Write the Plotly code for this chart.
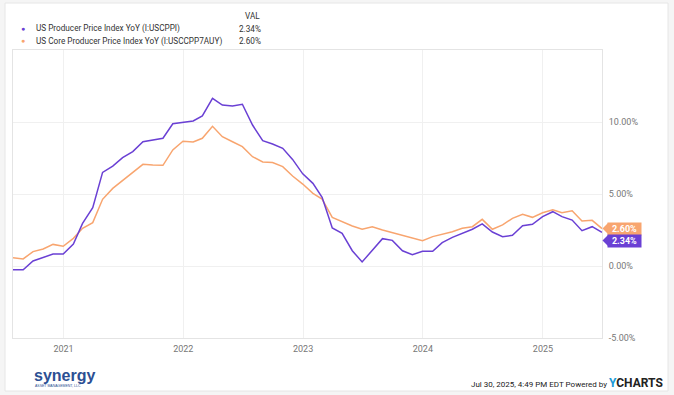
import plotly.graph_objects as go
import pandas as pd

# ---- data (monthly, Jul 2020 - Jun 2025), YoY %
dates = pd.date_range("2020-07-31", periods=60, freq="ME")
ppi = [-0.26, -0.26, 0.35, 0.60, 0.83, 0.83,
       1.53, 2.96, 4.05, 6.50, 6.94, 7.52, 7.94, 8.63, 8.75, 8.87, 9.88, 10.00,
       10.07, 10.42, 11.64, 11.18, 11.11, 11.23, 9.79, 8.70, 8.47, 8.17, 7.40, 6.40,
       5.74, 4.77, 2.64, 2.27, 1.06, 0.28, 1.06, 1.90, 1.78, 1.06, 0.78, 1.02,
       1.02, 1.62, 1.99, 2.29, 2.55, 2.92, 2.36, 2.04, 2.13, 2.80, 2.90, 3.43,
       3.77, 3.43, 3.19, 2.45, 2.73, 2.34]
core = [0.58, 0.49, 1.00, 1.18, 1.50, 1.37,
        1.92, 2.62, 3.01, 4.63, 5.39, 5.93, 6.44, 7.06, 7.01, 6.99, 8.06, 8.66,
        8.61, 8.87, 9.70, 8.98, 8.63, 8.29, 7.59, 7.22, 7.18, 6.90, 6.25, 5.69,
        5.05, 4.65, 3.38, 3.08, 2.78, 2.55, 2.73, 2.50, 2.31, 2.15, 1.92, 1.76,
        2.04, 2.18, 2.38, 2.62, 2.73, 3.24, 2.55, 2.85, 3.31, 3.59, 3.38, 3.70,
        3.91, 3.70, 3.84, 3.13, 3.17, 2.60]
names = ["US Producer Price Index YoY (I:USCPPI)",
         "US Core Producer Price Index YoY (I:USCCPP7AUY)"]
ytick_vals = [-5, 0, 5, 10]
ytick_text = ["-5.00%", "0.00%", "5.00%", "10.00%"]
xtick_vals = ["2021-01-01", "2022-01-01", "2023-01-01", "2024-01-01", "2025-01-01"]
xtick_text = ["2021", "2022", "2023", "2024", "2025"]

PURPLE = "#6a40d4"
ORANGE = "#f8a56f"
FONT = "Roboto"

W, H = 674, 395
ML, MR, MT, MB = 13, 72, 50, 57
PW, PH = W - ML - MR, H - MT - MB
YMIN, YMAX = -5, 15
DPP = (YMAX - YMIN) / PH  # data units per pixel


def px(x):
    return (x - ML) / PW


def py(y):
    return (H - MB - y) / PH


fig = go.Figure()
fig.add_trace(go.Scatter(x=dates, y=core, mode="lines", name=names[1],
                         line=dict(color=ORANGE, width=1.5), hoverinfo="skip"))
fig.add_trace(go.Scatter(x=dates, y=ppi, mode="lines", name=names[0],
                         line=dict(color=PURPLE, width=1.5), hoverinfo="skip"))

shapes = []
# card background
shapes.append(dict(type="rect", xref="paper", yref="paper", layer="below",
                   x0=px(5), x1=px(668), y0=py(391), y1=py(3),
                   fillcolor="white", line=dict(color="#e6e6e6", width=1)))

annotations = []
# legend header + rows
annotations.append(dict(xref="paper", yref="paper", x=px(262), y=py(16), text="VAL",
                        showarrow=False, xanchor="right", yanchor="middle",
                        font=dict(family=FONT, size=8.2, color="#333")))
for i, (nm, col, vals) in enumerate([(names[0], PURPLE, ppi), (names[1], ORANGE, core)]):
    yy = py(29 + 12 * i)
    annotations.append(dict(xref="paper", yref="paper", x=px(23), y=yy, text="●",
                            showarrow=False, xanchor="center", yanchor="middle",
                            font=dict(family=FONT, size=7, color=col)))
    annotations.append(dict(xref="paper", yref="paper", x=px(34), y=yy, text=nm,
                            showarrow=False, xanchor="left", yanchor="middle",
                            font=dict(family=FONT, size=8.2, color="#333")))
    annotations.append(dict(xref="paper", yref="paper", x=px(263), y=yy,
                            text=f"{vals[-1]:.2f}%",
                            showarrow=False, xanchor="right", yanchor="middle",
                            font=dict(family=FONT, size=8.2, color="#333")))

# end-of-line value tags
v_o = core[-1]
v_p = min(ppi[-1], v_o - 12 * DPP)
for v, col, val in [(v_o, ORANGE, core[-1]), (v_p, PURPLE, ppi[-1])]:
    annotations.append(dict(xref="paper", yref="y", x=px(607), y=v,
                            text=f"<b>{val:.2f}%</b>",
                            showarrow=False, xanchor="left", yanchor="middle",
                            bgcolor=col, borderpad=1, width=31, align="center",
                            font=dict(family=FONT, size=9, color="white")))
    shapes.append(dict(type="path", xref="paper", yref="y", line=dict(width=0),
                       fillcolor=col,
                       path=f"M {px(602.5)} {v} L {px(608)} {v + 5.5 * DPP} "
                            f"L {px(608)} {v - 5.5 * DPP} Z"))

# footer: logo + timestamp
annotations.append(dict(xref="paper", yref="paper", x=px(32), y=py(375), text="<b>synergy</b>",
                        showarrow=False, xanchor="left", yanchor="middle",
                        font=dict(family="Liberation Sans", size=16, color="#2c4f93")))
annotations.append(dict(xref="paper", yref="paper", x=px(33), y=py(386),
                        text="ASSET MANAGEMENT, LLC",
                        showarrow=False, xanchor="left", yanchor="middle",
                        font=dict(family="Liberation Sans", size=3.5, color="#2c4f93")))
annotations.append(dict(xref="paper", yref="paper", x=px(665), y=py(383),
                        text="<span style='color:#222'>Jul 30, 2025, 4:49 PM EDT Powered by </span>"
                             "<b><span style='font-size:12px;color:#1a9ad6'>Y</span>"
                             "<span style='font-size:12px;color:#222'>CHARTS</span></b>",
                        showarrow=False, xanchor="right", yanchor="middle",
                        font=dict(family=FONT, size=8, color="#222")))

fig.update_layout(
    width=W, height=H,
    margin=dict(l=ML, r=MR, t=MT, b=MB),
    paper_bgcolor="#f5f5f5", plot_bgcolor="white",
    showlegend=False,
    font=dict(family=FONT, size=9, color="#666"),
    shapes=shapes, annotations=annotations,
    xaxis=dict(range=[dates[0], dates[-1]], tickvals=xtick_vals, ticktext=xtick_text,
               showgrid=True, gridcolor="#f0f0f0", gridwidth=1,
               showline=True, mirror=True, linecolor="#e4e4e4", linewidth=1,
               zeroline=False, ticks="", tickfont=dict(size=9, color="#777"),
               ticklabelstandoff=2),
    yaxis=dict(range=[YMIN, YMAX], side="right", tickvals=ytick_vals,
               ticktext=ytick_text,
               showgrid=True, gridcolor="#f0f0f0", gridwidth=1,
               showline=True, mirror=True, linecolor="#e4e4e4", linewidth=1,
               zeroline=False, ticks="", tickfont=dict(size=9, color="#777"),
               ticklabelstandoff=4),
)

fig.write_html("out.html", config={"displayModeBar": False},
               post_script="document.body.style.margin='0';document.body.style.padding='0';")
